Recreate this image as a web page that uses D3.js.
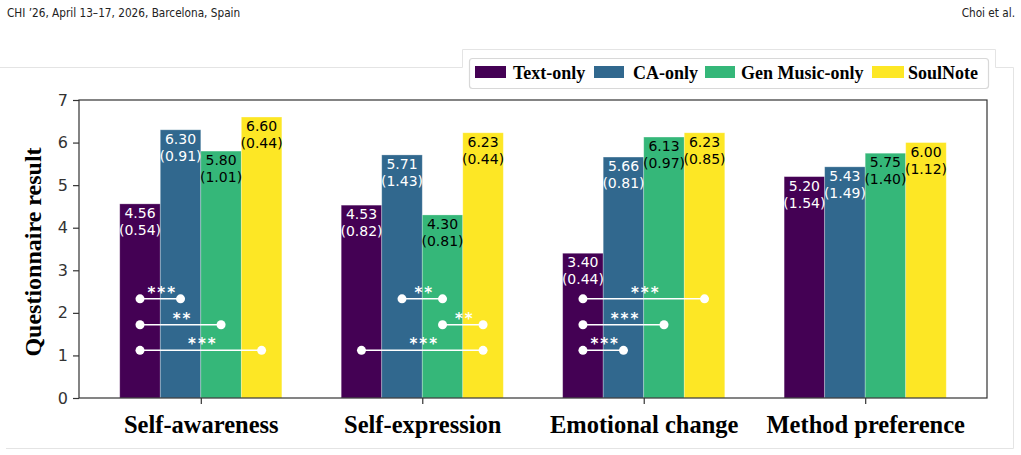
<!DOCTYPE html>
<html>
<head>
<meta charset="utf-8">
<script src="https://cdn.jsdelivr.net/npm/d3@7"></script>
<style>
  html, body { margin: 0; padding: 0; background: #fff; }
</style>
</head>
<body>
<script>
// Questionnaire means (sd) per condition
const categories = ["Self-awareness", "Self-expression", "Emotional change", "Method preference"];
const series = ["Text-only", "CA-only", "Gen Music-only", "SoulNote"];
const colors = ["#440154", "#31688e", "#35b779", "#fde725"];
const textOnly = [4.56, 4.53, 3.40, 5.20];
const textOnlySd = [0.54, 0.82, 0.44, 1.54];
const caOnly = [6.30, 5.71, 5.66, 5.43];
const caOnlySd = [0.91, 1.43, 0.81, 1.49];
const genOnly = [5.80, 4.30, 6.13, 5.75];
const genOnlySd = [1.01, 0.81, 0.97, 1.40];
const soulNote = [6.60, 6.23, 6.23, 6.00];
const soulNoteSd = [0.44, 0.44, 0.85, 1.12];
const yTicks = [0, 1, 2, 3, 4, 5, 6, 7];

// significance brackets: [category index, from series, to series, level, stars]
const sigLevels = [2.33, 1.72, 1.12];
const sig = [
  [0, 0, 1, 0, "***"], [0, 0, 2, 1, "**"], [0, 0, 3, 2, "***"],
  [1, 1, 2, 0, "**"], [1, 2, 3, 1, "**"], [1, 0, 3, 2, "***"],
  [2, 0, 3, 0, "***"], [2, 0, 2, 1, "***"], [2, 0, 1, 2, "***"]
];

const means = [textOnly, caOnly, genOnly, soulNote];
const sds = [textOnlySd, caOnlySd, genOnlySd, soulNoteSd];
const rows = [];
series.forEach((s, si) => categories.forEach((c, ci) => {
  rows.push({si, ci, v: means[si][ci], sd: sds[si][ci]});
}));

const w = 1021, h = 455;
const svg = d3.select("body").append("svg")
  .attr("width", w).attr("height", h)
  .attr("viewBox", [0, 0, w, h]);

// page header (narrow running head)
svg.append("text").attr("transform", "translate(7,17) scale(0.9,1)")
  .attr("font-family", "'DejaVu Sans Condensed', 'Liberation Sans', sans-serif")
  .attr("font-size", 13).attr("fill", "#222")
  .text("CHI \u201926, April 13\u201317, 2026, Barcelona, Spain");
svg.append("text").attr("transform", "translate(1015,17) scale(0.9,1)").attr("text-anchor", "end")
  .attr("font-family", "'DejaVu Sans Condensed', 'Liberation Sans', sans-serif")
  .attr("font-size", 13).attr("fill", "#222")
  .text("Choi et al.");

// light figure border with notch for legend
svg.append("path")
  .attr("d", "M0,67.5 H462.5 V49.5 H995.5 V67.5 H1013.5 V448.5 H6")
  .attr("fill", "none").attr("stroke", "#e4e4e4").attr("stroke-width", 1);

const x = d3.scaleLinear().domain([-0.55, 3.55]).range([79, 987]);
const y = d3.scaleLinear().domain([0, 7]).range([398, 100]);
const bw = 0.183;
const barX = (d) => x(d.ci + (d.si - 2) * bw);
const center = (si, ci) => x(ci + (si - 1.5) * bw);

// bars
svg.append("g").selectAll("rect").data(rows).join("rect")
  .attr("x", barX)
  .attr("y", (d) => y(d.v))
  .attr("width", x(bw) - x(0))
  .attr("height", (d) => y(0) - y(d.v))
  .attr("fill", (d) => colors[d.si])
  .attr("stroke", "rgba(255,255,255,0.35)")
  .attr("stroke-width", 0.8);

// value labels
const lab = svg.append("g")
  .attr("font-family", "'DejaVu Sans', sans-serif")
  .attr("font-size", 14)
  .attr("text-anchor", "middle");
rows.forEach((d) => {
  const t = lab.append("text")
    .attr("fill", d.si < 2 ? "#fff" : "#000")
    .attr("x", center(d.si, d.ci));
  t.append("tspan").attr("x", center(d.si, d.ci)).attr("y", y(d.v) + 14).text(d.v.toFixed(2));
  t.append("tspan").attr("x", center(d.si, d.ci)).attr("y", y(d.v) + 31).text(`(${d.sd.toFixed(2)})`);
});

// significance lines
const sg = svg.append("g");
sig.forEach(([ci, a, b, lvl, stars]) => {
  const x1 = center(a, ci), x2 = center(b, ci), yy = y(sigLevels[lvl]);
  sg.append("line").attr("x1", x1).attr("x2", x2).attr("y1", yy).attr("y2", yy)
    .attr("stroke", "#fff").attr("stroke-width", 1.5);
  [x1, x2].forEach((cx) => sg.append("circle").attr("cx", cx).attr("cy", yy).attr("r", 4.5).attr("fill", "#fff"));
  sg.append("text").attr("x", (x1 + x2) / 2 + 2).attr("y", yy - 1)
    .attr("text-anchor", "middle").attr("fill", "#fff")
    .attr("font-family", "'DejaVu Sans', sans-serif").attr("font-size", 15).attr("font-weight", "bold")
    .attr("letter-spacing", 2)
    .text(stars);
});

// frame
svg.append("rect").attr("x", 79).attr("y", 100).attr("width", 987 - 79).attr("height", 298)
  .attr("fill", "none").attr("stroke", "#333").attr("stroke-width", 1.2);

// axes
const yAxis = svg.append("g").attr("transform", "translate(79,0)")
  .call(d3.axisLeft(y).tickValues(yTicks).tickSize(6).tickPadding(5).tickFormat(d3.format("d")));
yAxis.select("path.domain").remove();
yAxis.selectAll("line").attr("stroke", "#333").attr("stroke-width", 1.2);
yAxis.selectAll("text").attr("font-family", "'DejaVu Sans', sans-serif").attr("font-size", 16).attr("fill", "#333");

const xAxis = svg.append("g").attr("transform", "translate(0,398)")
  .call(d3.axisBottom(x).tickValues(d3.range(categories.length)).tickSize(6).tickPadding(14)
    .tickFormat((i) => categories[i]));
xAxis.select("path.domain").remove();
xAxis.selectAll("line").attr("stroke", "#333").attr("stroke-width", 1.2);
xAxis.selectAll("text").attr("font-family", "'Liberation Serif', serif").attr("font-weight", "bold")
  .attr("font-size", 24.5).attr("fill", "#000").attr("dy", "0.62em");

svg.append("text")
  .attr("transform", "translate(41,252) rotate(-90)")
  .attr("text-anchor", "middle")
  .attr("font-family", "'Liberation Serif', serif").attr("font-weight", "bold").attr("font-size", 24)
  .text("Questionnaire result");

// legend
const lg = svg.append("g");
lg.append("rect").attr("x", 469.5).attr("y", 58.5).attr("width", 519).attr("height", 30).attr("rx", 3)
  .attr("fill", "#fff").attr("stroke", "#d8d8d8").attr("stroke-width", 1.2);
const legX = [475, 594, 705, 872];
const swW = [31, 30, 30, 32];
const txtX = [513, 633, 741, 908];
series.forEach((s, i) => {
  lg.append("rect").attr("x", legX[i]).attr("y", 66).attr("width", swW[i]).attr("height", 12).attr("fill", colors[i]);
  lg.append("text").attr("x", txtX[i]).attr("y", 79)
    .attr("font-family", "'Liberation Serif', serif").attr("font-weight", "bold").attr("font-size", 18)
    .text(s);
});
</script>
</body>
</html>
